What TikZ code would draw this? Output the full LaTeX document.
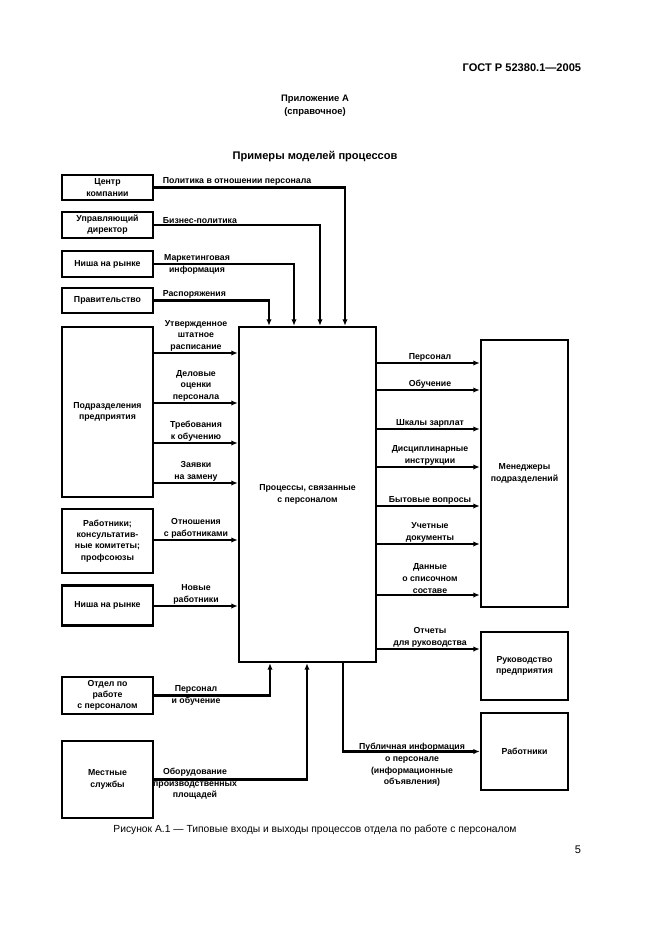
\documentclass[tikz,border=0pt]{standalone}
\usepackage{fontspec}
\setmainfont{Liberation Sans}
\usetikzlibrary{arrows.meta}
\newlength\pu
\setlength\pu{0.3177mm}

\begin{document}
\begin{tikzpicture}[x=\pu,y=-\pu,
  box/.style={draw,rectangle,align=center,line width=2.3pt,minimum width=91\pu,inner sep=0pt,
    font=\fontsize{7.9pt}{10.2pt}\selectfont\bfseries},
  lbl/.style={align=center,inner sep=1.5pt,font=\fontsize{7.9pt}{10.5pt}\selectfont\bfseries},
  flow/.style={line width=1.9pt,-{Latex[length=2mm,width=1.7mm]}}]
\useasboundingbox (0,0) rectangle (661,935);
% page head
\node[font=\fontsize{10pt}{12pt}\selectfont\bfseries,anchor=east](gost) at (585,68){ГОСТ Р 52380.1---2005};
\node[align=center,font=\fontsize{8.5pt}{12pt}\selectfont\bfseries](app) at (315,106){Приложение А\\(справочное)};
\node[font=\fontsize{10pt}{12pt}\selectfont\bfseries](title) at (315,157){Примеры моделей процессов};
% sources
\node[box,minimum height=25\pu](centr) at (107.5,187.5){Центр\\компании};
\node[box,minimum height=26\pu](upr) at (107.5,225){Управляющий\\директор};
\node[box,minimum height=26\pu](nisha) at (107.5,264){Ниша на рынке};
\node[box,minimum height=25\pu](prav) at (107.5,300.5){Правительство};
\node[box,minimum height=170\pu](podr) at (107.5,412){Подразделения\\предприятия};
\node[box,minimum height=64\pu](rabk) at (107.5,541){Работники;\\консультатив-\\ные комитеты;\\профсоюзы};
\node[box,minimum height=40\pu](nishb) at (107.5,605.5){Ниша на рынке};
\node[box,minimum height=37\pu](otdel) at (107.5,695.5){Отдел по\\работе\\с персоналом};
\node[box,minimum height=77\pu](mest) at (107.5,779.5){Местные\\службы};
% process
\node[box,minimum width=137\pu,minimum height=335\pu](proc) at (307.5,494.5){Процессы, связанные\\с персоналом};
% receivers
\node[box,minimum width=87\pu,minimum height=267\pu](mgr) at (524.5,473.5){Менеджеры\\подразделений};
\node[box,minimum width=87\pu,minimum height=68\pu](ruk) at (524.5,666){Руководство\\предприятия};
\node[box,minimum width=87\pu,minimum height=77\pu](rab) at (524.5,751.5){Работники};
% columns of the bent connectors
\coordinate (t1) at (345,0);
\coordinate (t2) at (320,0);
\coordinate (t3) at (294,0);
\coordinate (t4) at (269,0);
\coordinate (b1) at (270,0);
\coordinate (b2) at (307,0);
\coordinate (b3) at (343,0);
% controls from above
\draw[flow] (centr.east) -| (proc.north -| t1);
\draw[flow] (upr.east) -| (proc.north -| t2);
\draw[flow] (nisha.east) -| (proc.north -| t3);
\draw[flow] (prav.east) -| (proc.north -| t4);
\node[lbl,anchor=south west](pol) at (161,187){Политика в отношении персонала};
\node[lbl,anchor=south west](biz) at (161,225){Бизнес-политика};
\node[lbl](mark) at (197,264.5){Маркетинговая\\информация};
\node[lbl,anchor=south west](rasp) at (161,300){Распоряжения};
% inputs
\node[lbl,anchor=south](utv) at (196,353){Утвержденное\\штатное\\расписание};
\node[lbl,anchor=south](del) at (196,403){Деловые\\оценки\\персонала};
\node[lbl,anchor=south](treb) at (196,443){Требования\\к обучению};
\node[lbl,anchor=south](zay) at (196,483){Заявки\\на замену};
\node[lbl,anchor=south](otn) at (196,540){Отношения\\с работниками};
\node[lbl,anchor=south](nov) at (196,606){Новые\\работники};
\draw[flow] (podr.east |- utv.south) -- (proc.west |- utv.south);
\draw[flow] (podr.east |- del.south) -- (proc.west |- del.south);
\draw[flow] (podr.east |- treb.south) -- (proc.west |- treb.south);
\draw[flow] (podr.east |- zay.south) -- (proc.west |- zay.south);
\draw[flow] (rabk.east |- otn.south) -- (proc.west |- otn.south);
\draw[flow] (nishb.east |- nov.south) -- (proc.west |- nov.south);
% mechanisms from below
\draw[flow] (otdel.east) -| (proc.south -| b1);
\draw[flow] (mest.east) -| (proc.south -| b2);
\node[lbl](pers) at (196,695.5){Персонал\\и обучение};
\node[lbl](obor) at (195,784){Оборудование\\производственных\\площадей};
% outputs
\node[lbl,anchor=south](oper) at (430,363){Персонал};
\node[lbl,anchor=south](oobu) at (430,390){Обучение};
\node[lbl,anchor=south](oshk) at (430,429){Шкалы зарплат};
\node[lbl,anchor=south](odis) at (430,467){Дисциплинарные\\инструкции};
\node[lbl,anchor=south](obyt) at (430,506){Бытовые вопросы};
\node[lbl,anchor=south](ouch) at (430,544){Учетные\\документы};
\node[lbl,anchor=south](odan) at (430,595){Данные\\о списочном\\составе};
\node[lbl,anchor=south](ootc) at (430,649){Отчеты\\для руководства};
\draw[flow] (proc.east |- oper.south) -- (mgr.west |- oper.south);
\draw[flow] (proc.east |- oobu.south) -- (mgr.west |- oobu.south);
\draw[flow] (proc.east |- oshk.south) -- (mgr.west |- oshk.south);
\draw[flow] (proc.east |- odis.south) -- (mgr.west |- odis.south);
\draw[flow] (proc.east |- obyt.south) -- (mgr.west |- obyt.south);
\draw[flow] (proc.east |- ouch.south) -- (mgr.west |- ouch.south);
\draw[flow] (proc.east |- odan.south) -- (mgr.west |- odan.south);
\draw[flow] (proc.east |- ootc.south) -- (ruk.west |- ootc.south);
\draw[flow] (proc.south -| b3) |- (rab.west);
\node[lbl](opub) at (412,765){Публичная информация\\о персонале\\(информационные\\объявления)};
% caption
\node[font=\fontsize{9.3pt}{12pt}\selectfont](capt) at (315,830){Рисунок А.1 --- Типовые входы и выходы процессов отдела по работе с персоналом};
\node[font=\fontsize{10pt}{12pt}\selectfont](pnum) at (578,850){5};
\end{tikzpicture}
\end{document}
